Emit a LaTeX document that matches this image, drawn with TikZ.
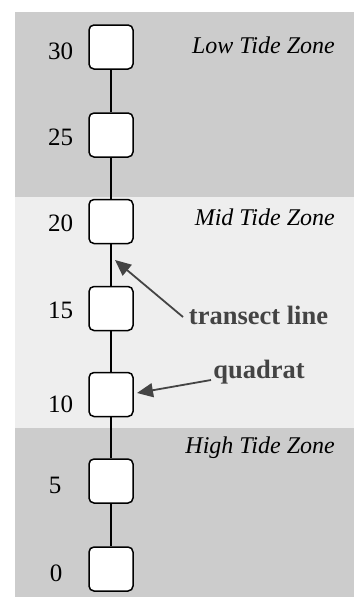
\documentclass[tikz,border=0pt]{standalone}
\usepackage{fontspec}
\setmainfont{Liberation Serif}
\usetikzlibrary{arrows.meta}
\definecolor{zonedark}{HTML}{CCCCCC}
\definecolor{zonelight}{HTML}{EEEEEE}
\definecolor{callout}{HTML}{444444}
\begin{document}
\begin{tikzpicture}[x=1pt,y=-1pt,
  quad/.style={draw=black,line width=1.5pt,fill=white,rounded corners=5pt,minimum width=44pt,minimum height=44pt,inner sep=0pt},
  distlabel/.style={font=\fontsize{25}{30}\selectfont,inner sep=0pt},
  zone/.style={font=\fontsize{24}{29}\selectfont\itshape,anchor=east,inner sep=0pt},
  tline/.style={line width=1.2pt,black},
  callarrow/.style={callout,line width=1.8pt,-{Triangle[length=16pt,width=14pt]}},
  calltext/.style={callout,font=\fontsize{26.5}{31}\selectfont\bfseries,inner sep=0pt}]
\useasboundingbox (0,0) rectangle (356,597);
\fill[zonedark] (15,12) rectangle (354,197);
\fill[zonelight] (15,197) rectangle (354,428);
\fill[zonedark] (15,428) rectangle (354,597);
\node[zone] (zl) at (335,45) {Low Tide Zone};
\node[zone] (zm) at (335,217) {Mid Tide Zone};
\node[zone] (zh) at (335,448) {High Tide Zone};
\node[quad] (q30) at (111,47) {};
\node[quad] (q25) at (111,135) {};
\node[quad] (q20) at (111,221.5) {};
\node[quad] (q15) at (111,308.5) {};
\node[quad] (q10) at (111,394.5) {};
\node[quad] (q5) at (111,481) {};
\node[quad] (q0) at (111,569) {};
\draw[tline] (q30) -- (q25);
\draw[tline] (q25) -- (q20);
\draw[tline] (q20) -- (q15);
\draw[tline] (q15) -- (q10);
\draw[tline] (q10) -- (q5);
\draw[tline] (q5) -- (q0);
\node[distlabel] (l30) at (60.5,51) {30};
\node[distlabel] (l25) at (60.5,137) {25};
\node[distlabel] (l20) at (60.5,223) {20};
\node[distlabel] (l15) at (60.5,310) {15};
\node[distlabel] (l10) at (60.5,404) {10};
\node[distlabel] (l5) at (55,485) {5};
\node[distlabel] (l0) at (56,573) {0};
\node[calltext] (tt) at (258.5,315) {transect line};
\node[calltext] (tq) at (259,372) {quadrat};
\coordinate (tip1) at (115,260);
\coordinate (tip2) at (137,393);
\coordinate (s1) at (183,317);
\coordinate (s2) at (211,380);
\draw[callarrow] (s1) -- (tip1);
\draw[callarrow] (s2) -- (tip2);
\end{tikzpicture}
\end{document}
